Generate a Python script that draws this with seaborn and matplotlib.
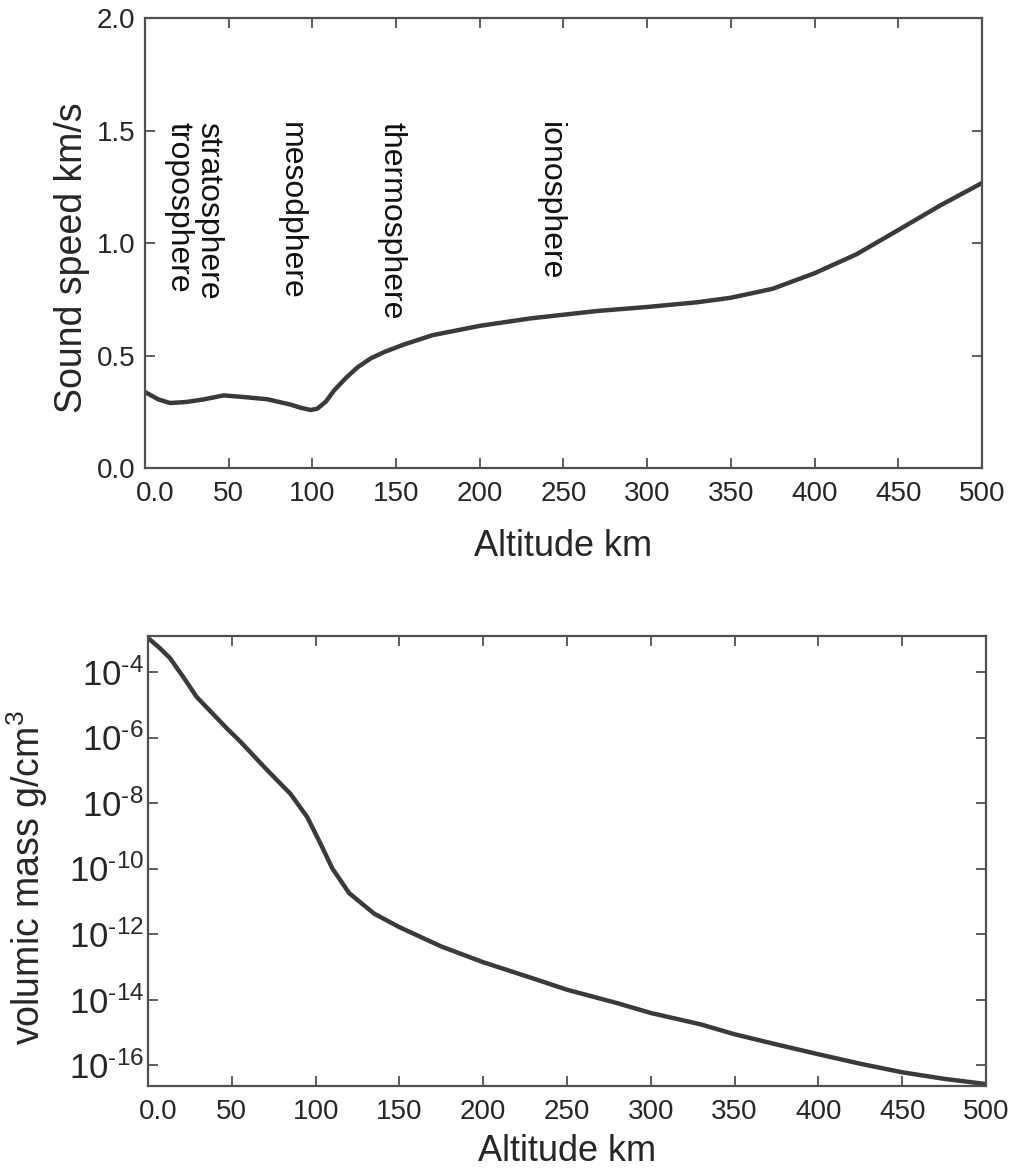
import numpy as np
import pandas as pd
import seaborn as sns
import matplotlib.pyplot as plt
import matplotlib.transforms as mtransforms
from matplotlib.ticker import NullLocator

# sound speed profile (km/s) vs altitude (km)
alt_speed = [0, 8, 15, 25, 35, 47, 60, 73, 87, 93, 99, 103, 108, 113, 120, 127, 135, 143,
             155, 172, 200, 230, 270, 300, 330, 350, 375, 400, 425, 450, 475, 500]
sound_speed = [0.338, 0.305, 0.289, 0.294, 0.305, 0.323, 0.315, 0.306, 0.282, 0.268, 0.258,
               0.264, 0.295, 0.345, 0.400, 0.448, 0.488, 0.516, 0.550, 0.591, 0.632, 0.665,
               0.698, 0.716, 0.737, 0.757, 0.797, 0.866, 0.950, 1.058, 1.167, 1.267]

# density profile, log10 of g/cm3
alt_mass = [0, 7, 13, 21, 29, 47, 55, 71, 85, 95, 103, 110, 120, 135, 150, 175, 200, 230,
            250, 280, 300, 330, 350, 375, 400, 425, 450, 475, 500]
log_mass = [-2.96, -3.27, -3.57, -4.15, -4.76, -5.72, -6.12, -6.99, -7.72, -8.43, -9.25,
            -10.00, -10.75, -11.38, -11.79, -12.38, -12.86, -13.36, -13.70, -14.11, -14.41,
            -14.76, -15.06, -15.37, -15.67, -15.96, -16.22, -16.42, -16.58]

layers = ["troposphere", "stratosphere", "mesodphere", "thermosphere", "ionosphere"]
layer_x = [20, 38, 87, 147, 242]

x_ticks = [0, 50, 100, 150, 200, 250, 300, 350, 400, 450, 500]
x_labels = ["0.0", "50", "100", "150", "200", "250", "300", "350", "400", "450", "500"]
speed_ticks = [0.0, 0.5, 1.0, 1.5, 2.0]
mass_exps = [-4, -6, -8, -10, -12, -14, -16]

sns.set_style("ticks")
plt.rcParams['font.family'] = ['Liberation Sans', 'DejaVu Sans']
plt.rcParams['mathtext.fontset'] = 'custom'
plt.rcParams['mathtext.rm'] = 'Liberation Sans'
plt.rcParams['mathtext.it'] = 'Liberation Sans:italic'

line_col = "#3a3a3a"
edge_col = "#505050"

df1 = pd.DataFrame({"alt": alt_speed, "speed": sound_speed})
df2 = pd.DataFrame({"alt": alt_mass, "mass": [10.0 ** v for v in log_mass]})

fig = plt.figure(figsize=(10.16, 11.76), dpi=100)
ax1 = fig.add_axes([0.1427, 0.602, 0.8238, 0.3826])
ax2 = fig.add_axes([0.1457, 0.0765, 0.8248, 0.3827])

sns.lineplot(data=df1, x="alt", y="speed", ax=ax1, color=line_col, lw=3.2)
sns.lineplot(data=df2, x="alt", y="mass", ax=ax2, color=line_col, lw=3.2)

ax1.set_xlim(0, 500)
ax1.set_ylim(0, 2.0)
ax1.set_yticks(speed_ticks)
ax1.set_yticklabels(["%.1f" % v for v in speed_ticks])
ax1.set_ylabel("Sound speed km/s", fontsize=27)
ax1.yaxis.set_label_coords(-0.066, 0.467)

for name, xv in zip(layers, layer_x):
    ax1.text(xv, 1.54, name, rotation=270, ha="center", va="top", fontsize=23, color="#111111")

ax2.set_yscale("log")
ax2.set_xlim(0, 500)
ax2.set_ylim(10 ** -16.64, 10 ** -2.9)
ax2.set_yticks([10.0 ** e for e in mass_exps])
ax2.set_yticklabels([r"$10^{\text{-}%d}$" % abs(e) for e in mass_exps])
ax2.yaxis.set_minor_locator(NullLocator())
ax2.set_ylabel(r"volumic mass g/cm$^3$", fontsize=27)
ax2.yaxis.set_label_coords(-0.117, 0.462)

for ax in (ax1, ax2):
    ax.set_xticks(x_ticks)
    ax.set_xticklabels(x_labels)
    ax.tick_params(direction="in", length=7, width=1.3, color=edge_col,
                   top=True, right=True, labelsize=20, pad=9)
    for sp in ax.spines.values():
        sp.set_visible(True)
        sp.set_color(edge_col)
        sp.set_linewidth(1.6)
    # first x label sits a bit right of its tick
    shift = mtransforms.ScaledTranslation(0.1, 0, fig.dpi_scale_trans)
    lab0 = ax.get_xticklabels()[0]
    lab0.set_transform(lab0.get_transform() + shift)

ax1.set_xlabel("Altitude km", fontsize=26, labelpad=16)
ax2.set_xlabel("Altitude km", fontsize=26, labelpad=7)
ax1.tick_params(axis="y", pad=7)
ax2.tick_params(axis="y", labelsize=25, pad=3)

plt.savefig("out.png", dpi=100)
